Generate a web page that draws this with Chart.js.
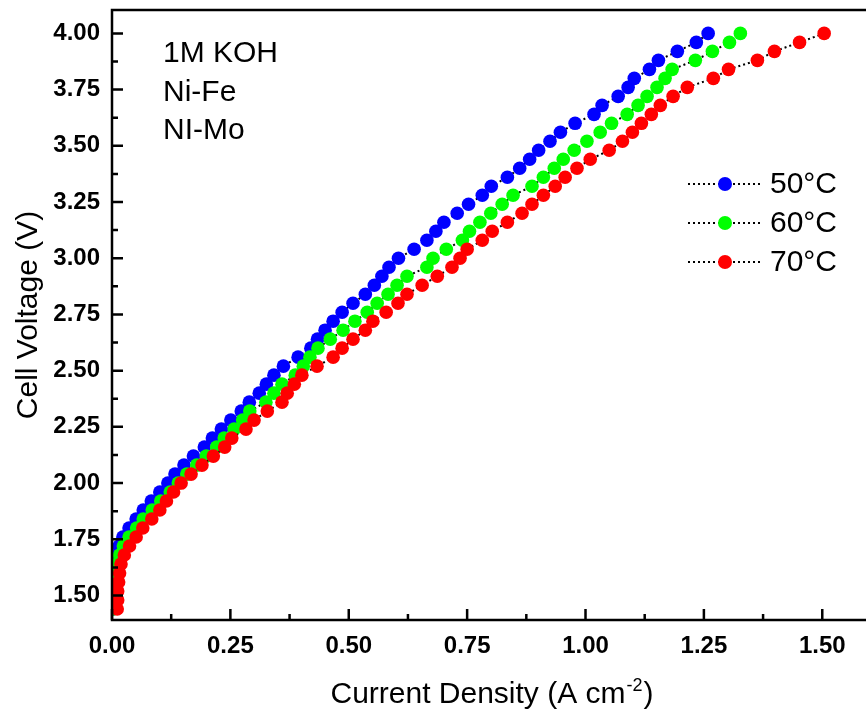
<!DOCTYPE html>
<html>
<head>
<meta charset="utf-8">
<script src="https://cdn.jsdelivr.net/npm/chart.js@4.4.0/dist/chart.umd.min.js"></script>
<style>
  html, body { margin: 0; padding: 0; background: #fff; overflow: hidden; }
  #wrap { width: 866px; height: 715px; }
</style>
</head>
<body>
<div id="wrap"><canvas id="chart" width="866" height="715"></canvas></div>
<script>
// cell voltage (V), shared by all three sweeps
const voltage = [
  1.44, 1.48, 1.52, 1.56, 1.60, 1.64, 1.68, 1.72, 1.76, 1.80,
  1.84, 1.88, 1.92, 1.96, 2.00, 2.04, 2.08, 2.12, 2.16, 2.20,
  2.24, 2.28, 2.32, 2.36, 2.40, 2.44, 2.48, 2.52, 2.56, 2.60,
  2.64, 2.68, 2.72, 2.76, 2.80, 2.84, 2.88, 2.92, 2.96, 3.00,
  3.04, 3.08, 3.12, 3.16, 3.20, 3.24, 3.28, 3.32, 3.36, 3.40,
  3.44, 3.48, 3.52, 3.56, 3.60, 3.64, 3.68, 3.72, 3.76, 3.80,
  3.84, 3.88, 3.92, 3.96, 4.00
];
// current density (A cm-2)
const current50 = [
  0.001, 0.002, 0.002, 0.003, 0.004, 0.006, 0.010, 0.015, 0.023, 0.036,
  0.051, 0.066, 0.083, 0.101, 0.118, 0.133, 0.152, 0.172, 0.195, 0.212,
  0.231, 0.251, 0.273, 0.290, 0.311, 0.326, 0.342, 0.362, 0.393, 0.420,
  0.434, 0.450, 0.467, 0.486, 0.509, 0.535, 0.554, 0.570, 0.585, 0.605,
  0.638, 0.665, 0.684, 0.701, 0.729, 0.753, 0.782, 0.801, 0.835, 0.861,
  0.882, 0.901, 0.925, 0.947, 0.978, 1.018, 1.035, 1.069, 1.090, 1.103,
  1.135, 1.154, 1.194, 1.234, 1.259
];
const current60 = [
  0.002, 0.003, 0.004, 0.005, 0.007, 0.010, 0.016, 0.024, 0.036, 0.052,
  0.066, 0.085, 0.103, 0.123, 0.140, 0.158, 0.179, 0.199, 0.221, 0.237,
  0.258, 0.276, 0.291, 0.325, 0.342, 0.359, 0.387, 0.404, 0.418, 0.435,
  0.461, 0.488, 0.513, 0.539, 0.560, 0.583, 0.602, 0.623, 0.665, 0.678,
  0.706, 0.740, 0.755, 0.777, 0.800, 0.824, 0.847, 0.887, 0.911, 0.934,
  0.953, 0.976, 1.003, 1.031, 1.055, 1.088, 1.111, 1.130, 1.151, 1.168,
  1.183, 1.232, 1.268, 1.304, 1.327
];
const current70 = [
  0.011, 0.012, 0.012, 0.014, 0.016, 0.019, 0.026, 0.037, 0.051, 0.065,
  0.084, 0.101, 0.115, 0.130, 0.146, 0.167, 0.190, 0.214, 0.238, 0.253,
  0.283, 0.300, 0.328, 0.359, 0.370, 0.385, 0.401, 0.433, 0.467, 0.486,
  0.509, 0.535, 0.551, 0.579, 0.604, 0.623, 0.655, 0.687, 0.718, 0.735,
  0.750, 0.782, 0.803, 0.835, 0.866, 0.887, 0.911, 0.936, 0.957, 0.982,
  1.010, 1.050, 1.078, 1.099, 1.118, 1.139, 1.158, 1.185, 1.215, 1.270,
  1.302, 1.363, 1.399, 1.452, 1.504
];
const seriesNames = ['50°C', '60°C', '70°C'];
const seriesColors = ['#0000ff', '#00ff00', '#ff0000'];
const xTicks = [0, 0.25, 0.5, 0.75, 1.0, 1.25, 1.5];
const yTicks = [1.5, 1.75, 2.0, 2.25, 2.5, 2.75, 3.0, 3.25, 3.5, 3.75, 4.0];
const notes = ['1M KOH', 'Ni-Fe', 'NI-Mo'];

const FONT = "'Liberation Sans', Arial, sans-serif";

function toPoints(cur) {
  return cur.map((c, i) => ({ x: c, y: voltage[i] }));
}

const series = [current50, current60, current70].map((cur, i) => ({
  label: seriesNames[i],
  data: toPoints(cur),
  borderColor: '#000',
  borderWidth: 2,
  borderDash: [2, 3],
  pointRadius: 6.8,
  pointHoverRadius: 6.8,
  pointBorderWidth: 0,
  pointBackgroundColor: seriesColors[i],
  backgroundColor: seriesColors[i],
  tension: 0,
  order: 3 - i
}));

// inward ticks, axes, legend and labels
const framePlugin = {
  id: 'frame',
  afterDatasetsDraw(chart) {
    const { ctx, chartArea: a, scales: { x, y } } = chart;
    ctx.save();
    ctx.strokeStyle = '#000';
    ctx.lineWidth = 2.5;
    ctx.beginPath();
    ctx.moveTo(chart.width, a.top);
    ctx.lineTo(a.left, a.top);
    ctx.lineTo(a.left, a.bottom);
    ctx.lineTo(chart.width, a.bottom);
    ctx.stroke();

    ctx.beginPath();
    xTicks.forEach((v, i) => {
      const px = x.getPixelForValue(v);
      ctx.moveTo(px, a.bottom); ctx.lineTo(px, a.bottom - 11);
      const mid = i < xTicks.length - 1 ? (v + xTicks[i + 1]) / 2 : v + (v - xTicks[i - 1]) / 2;
      if (mid < x.max) {
        const pm = x.getPixelForValue(mid);
        ctx.moveTo(pm, a.bottom); ctx.lineTo(pm, a.bottom - 6);
      }
    });
    yTicks.forEach((v, i) => {
      const py = y.getPixelForValue(v);
      ctx.moveTo(a.left, py); ctx.lineTo(a.left + 11, py);
      if (i < yTicks.length - 1) {
        const pm = y.getPixelForValue((v + yTicks[i + 1]) / 2);
        ctx.moveTo(a.left, pm); ctx.lineTo(a.left + 6, pm);
      }
    });
    ctx.stroke();
    ctx.restore();
  },
  afterDraw(chart) {
    const { ctx, chartArea: a } = chart;
    ctx.save();
    ctx.fillStyle = '#000';

    // notes
    ctx.font = '30px ' + FONT;
    ctx.textAlign = 'left';
    ctx.textBaseline = 'alphabetic';
    notes.forEach((t, i) => ctx.fillText(t, 163, 62 + i * 38.5));

    // legend
    seriesNames.forEach((name, i) => {
      const ly = 184 + i * 39;
      ctx.strokeStyle = '#000';
      ctx.lineWidth = 2;
      ctx.setLineDash([2, 3]);
      ctx.beginPath();
      ctx.moveTo(688, ly); ctx.lineTo(760, ly);
      ctx.stroke();
      ctx.setLineDash([]);
      ctx.fillStyle = seriesColors[i];
      ctx.beginPath();
      ctx.arc(725, ly, 7, 0, Math.PI * 2);
      ctx.fill();
      ctx.fillStyle = '#000';
      ctx.font = '30px ' + FONT;
      ctx.textBaseline = 'middle';
      ctx.fillText(name, 770, ly + 1);
    });

    // y title
    ctx.save();
    ctx.translate(37, (a.top + a.bottom) / 2);
    ctx.rotate(-Math.PI / 2);
    ctx.textAlign = 'center';
    ctx.textBaseline = 'alphabetic';
    ctx.font = '30px ' + FONT;
    ctx.fillText('Cell Voltage (V)', 0, 0);
    ctx.restore();

    // x title with superscript
    const main = 'Current Density (A cm';
    const sup = '-2';
    const tail = ')';
    ctx.textAlign = 'left';
    ctx.textBaseline = 'alphabetic';
    ctx.font = '30px ' + FONT;
    const w1 = ctx.measureText(main).width;
    const w3 = ctx.measureText(tail).width;
    ctx.font = '18px ' + FONT;
    const w2 = ctx.measureText(sup).width;
    const sx = 491 - (w1 + w2 + w3) / 2;
    const base = 703;
    ctx.font = '30px ' + FONT;
    ctx.fillText(main, sx, base);
    ctx.font = '18px ' + FONT;
    ctx.fillText(sup, sx + w1 + 1, base - 12);
    ctx.font = '30px ' + FONT;
    ctx.fillText(tail, sx + w1 + w2 + 2, base);
    ctx.restore();
  }
};

function noOverhang(s) {
  s.paddingTop = 0;
  s.paddingBottom = 0;
  s.paddingLeft = 0;
  s.paddingRight = 0;
}

new Chart(document.getElementById('chart'), {
  type: 'line',
  data: { datasets: series },
  options: {
    responsive: false,
    animation: false,
    devicePixelRatio: 1,
    layout: { padding: { top: 10, right: 0, left: 0, bottom: 0 } },
    plugins: {
      legend: { display: false },
      tooltip: { enabled: false }
    },
    scales: {
      x: {
        type: 'linear',
        min: 0,
        max: 1.578,
        afterFit: s => { s.height = 95; noOverhang(s); },
        afterBuildTicks: s => { s.ticks = xTicks.map(v => ({ value: v })); },
        grid: { display: false, drawTicks: false },
        border: { display: false },
        ticks: {
          padding: 12,
          color: '#000',
          font: { family: FONT, size: 24, weight: 'bold' },
          callback: v => Number(v).toFixed(2),
          maxRotation: 0,
          autoSkip: false
        }
      },
      y: {
        type: 'linear',
        min: 1.391,
        max: 4.104,
        afterFit: s => { s.width = 112; noOverhang(s); },
        afterBuildTicks: s => { s.ticks = yTicks.map(v => ({ value: v })); },
        grid: { display: false, drawTicks: false },
        border: { display: false },
        ticks: {
          padding: 12,
          color: '#000',
          font: { family: FONT, size: 24, weight: 'bold' },
          callback: v => Number(v).toFixed(2),
          autoSkip: false
        }
      }
    }
  },
  plugins: [framePlugin]
});
</script>
</body>
</html>
